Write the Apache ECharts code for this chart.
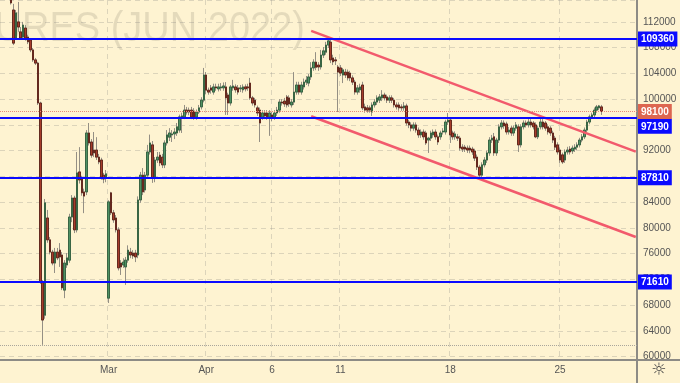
<!DOCTYPE html>
<html><head><meta charset="utf-8">
<script src="https://cdn.jsdelivr.net/npm/echarts@6/dist/echarts.min.js"></script>
<style>html,body{margin:0;padding:0;background:#fef3d1;}#c{width:680px;height:383px;}</style>
</head><body><div id="c"></div>
<script>
const BG = '#fef3d1';
const FONT = '"Liberation Sans", Arial, sans-serif';
const NCAT = 261;
const firstIdx = 4;
const tickIdx = [44, 84, 111, 139, 184, 229];
const tickTxt = ['Mar', 'Apr', '6', '11', '18', '25'];
const levelPrices = [109360, 97190, 87810, 71610];
const lastPrice = 98100;
const lowPrice = 61850;
const trendUpper = [[127, 110600], [260, 91850]];
const trendLower = [[127, 97350], [260, 78600]];
// [open, close, low, high]
const candles = [
[115800,114950,114700,116300],[113850,108700,108400,114800],[109500,113400,109200,113850],[112000,111200,110450,115100],
[110450,109500,109200,111200],[109650,111500,109350,112000],[111050,109500,109100,111500],[109650,108900,108550,110000],
[109200,107650,107300,109500],[107650,106100,105800,107950],[106100,105600,105300,106400],[105600,99400,99100,105800],
[99400,71600,71300,99600],[71600,65700,61850,71900],[66450,83900,65900,84500],[81550,78150,77700,82800],
[78150,76250,75900,78600],[76250,74550,74200,76600],[74550,76250,73000,76900],[76250,75350,75000,76900],
[76550,75500,73950,77650],[75800,70700,70350,76250],[70350,74550,69100,75000],[74250,75350,73800,76100],
[75000,81700,74600,82200],[81700,84650,80900,85100],[84650,79700,79200,85000],[79700,88550,79300,91800],
[88700,87450,86900,92550],[87750,85450,85000,88100],[85600,84950,82300,86100],[85600,94750,85100,95200],
[94750,93200,92800,96300],[93350,91300,90900,93800],[92100,91650,91000,94900],[92100,91000,90550,94100],
[91000,90250,89900,91500],[90550,87900,87500,90900],[88200,87600,86950,88550],[87900,88400,87100,89000],
[69100,84050,68350,84300],[85450,82350,82000,85600],[82350,81250,80800,82800],[81550,79700,79300,82000],
[79700,73800,73400,80100],[74550,73950,72700,75000],[74250,74700,73800,75300],[73950,75000,71150,75500],
[75000,76550,74600,77300],[76250,75800,75300,76900],[76100,75650,75200,76550],[76100,75500,74700,76600],
[75800,84350,75300,84900],[84350,88200,83900,88700],[88200,85600,85100,89300],[85900,88200,85500,88700],
[88200,91800,87700,92900],[91800,93200,91400,94500],[92900,87750,87000,93500],[87750,90550,87100,91000],
[90550,91000,90100,91800],[91300,90100,89600,91800],[91000,89800,89300,91500],[89800,93200,89300,93600],
[93200,94450,92800,95200],[94100,94750,93500,95500],[94450,94600,93350,95200],[94600,94900,93800,95500],
[94750,95700,94300,96300],[95200,97250,94800,97600],[97100,97400,94750,97900],[97250,98300,96900,99100],
[98300,98000,97600,98800],[98300,98000,97500,98700],[98300,97250,96900,98800],[98150,97250,96800,98600],
[97250,98000,96800,98400],[98000,98650,97700,99100],[98800,99850,98400,100300],[99850,103750,99500,104850],
[103750,101400,100800,104200],[101400,101100,100700,101800],[101750,101400,100850,102200],[101100,101900,100700,102400],
[101900,101750,101300,102400],[101600,101900,101200,102400],[101750,101900,101300,102500],[101750,102050,101300,102600],
[101900,100200,97550,102650],[100650,99400,97550,101000],[99400,101900,99000,102200],[101750,102050,101300,103000],
[101900,101450,101000,102300],[101750,101100,100700,102200],[101600,101750,101100,102200],[101450,101900,101000,102300],
[101900,101600,101200,102300],[101900,101750,101300,102400],[102500,100200,99900,103300],[100200,99400,99000,100500],
[99850,99100,98700,100200],[98650,97850,97400,99000],[98300,96300,93350,98700],[97250,97850,96800,98300],
[97850,97400,96900,98300],[97850,97250,96800,98300],[97250,97850,94300,98300],[97550,97100,96600,98000],
[97250,97850,96800,98300],[97850,98300,97400,98800],[98300,99550,97900,100000],[99550,99400,99000,100000],
[99700,99250,98800,100200],[100350,99100,98700,100650],[100200,99250,98800,100600],[99100,99550,98700,100000],
[99550,101100,99100,104200],[101100,102200,100700,102700],[102200,101100,100700,102700],[101100,102200,100700,102700],
[101900,102650,101500,103200],[102650,102950,102200,103600],[102500,103450,102000,103900],[103450,104850,103000,105750],
[104850,105750,104400,106200],[105750,104950,104500,107300],[105300,105000,104400,105750],[105000,106850,104600,107650],
[106850,107500,106400,108100],[107300,108400,106900,108900],[108400,109050,107950,109500],[108850,106100,105600,109350],
[106400,105800,105300,106900],[106100,105950,105300,106550],[105000,104200,98000,105300],[104850,104050,103600,105300],
[103750,104550,102500,104850],[104200,103750,103300,104700],[104200,103300,102900,104600],[104050,103300,102800,104400],
[103300,102650,102200,103700],[102650,101100,100700,103000],[101100,101750,100700,102200],[101450,101900,101000,102400],
[102200,98650,98300,102700],[98800,98300,97900,99300],[98650,98300,97900,99100],[98650,98300,97900,99000],
[98000,99100,97400,99500],[99100,99550,98700,100000],[99550,100200,99100,100600],[99850,100350,99400,100800],
[100200,100650,99700,101400],[100650,100200,99800,101000],[100350,99850,99400,100700],[99850,100200,99400,100600],
[100200,99850,99400,100600],[99850,99100,98700,100200],[99100,98800,98400,99500],[99100,98650,98200,99500],
[98800,98650,98200,99200],[98650,98950,98200,99550],[98950,96300,95900,99300],[96450,96000,95500,96800],
[96000,95500,95000,96400],[95500,96000,95100,96400],[96000,95200,94800,96400],[95200,94450,94000,95600],
[94450,94900,94000,95300],[94900,94150,93700,95300],[94750,93200,92900,95100],[93650,93950,91650,94150],
[93950,94750,93500,95100],[94450,94900,94000,95300],[94900,94150,93700,95300],[94150,93350,92900,94500],
[94150,94750,93700,95100],[94900,95050,94500,95500],[94900,96450,94500,96800],[96450,96750,96000,97850],
[96750,94450,93200,97100],[94750,94150,93700,95100],[94150,94600,93700,95000],[94150,93950,93500,94600],
[93950,92400,92000,94300],[92550,92250,91800,93000],[92550,92250,91800,92900],[92400,92100,91650,92800],
[92400,92100,91600,92800],[92250,91800,91350,92600],[91950,90850,90400,92300],[91000,89450,89000,91400],
[89450,88200,87900,89800],[88200,89800,87750,90200],[89800,90550,89400,91000],[90550,91650,90100,92000],
[91650,93650,91200,94100],[93650,93950,93200,94450],[94150,91650,91200,94750],[91650,93650,91200,94000],
[93650,95700,93200,96100],[95700,96300,95300,96750],[96300,95850,95400,96700],[96150,94900,94500,96500],
[94900,95200,94500,95700],[95500,94750,94300,95900],[94750,95500,94300,95900],[95500,96000,95100,96450],
[95700,92900,91800,96100],[92900,95700,92500,96100],[95700,96300,95300,96700],[96300,96000,95600,96700],
[96000,96450,95600,96900],[96450,96000,95600,96900],[96300,95700,95300,96600],[96000,94150,93950,96400],
[94150,95500,93800,95900],[95700,96450,95300,97100],[96450,95700,95300,96900],[96300,95500,95100,96600],
[95700,94900,94500,96100],[95500,94750,94300,95800],[94750,93650,93200,95100],[93950,92550,92100,94300],
[92900,91800,91400,93300],[92100,90550,90100,92500],[91350,90250,89950,91700],[90550,91800,90100,92200],
[91800,92100,91400,92600],[92250,91800,91400,92700],[91950,92400,91500,92800],[92250,92550,91800,93000],
[92550,92900,92100,93300],[92900,93650,92500,94000],[93650,94150,93300,94600],[94150,95200,93800,95600],
[95200,96450,94900,96800],[96450,97250,96100,97600],[97250,97550,96900,97900],[97550,98300,97200,98700],
[98300,98800,97900,99100],[98650,98950,98300,99100],[98800,98100,97550,99100]
];

const cats = Array.from({length: NCAT}, (_, i) => String(i));
const wickData = candles.map((c, j) => [j + firstIdx, c[0], c[1], c[2], c[3]]);
const bodyData = candles.map((c, j) => [j + firstIdx, c[0], c[1], Math.min(c[0], c[1]), Math.max(c[0], c[1])]);

function tag(color, shift) {
  return {
    show: true, position: 'end', distance: 1,
    formatter: p => '{t|' + p.value + '}',
    padding: shift ? [shift, 0, 0, 0] : 0,
    rich: { t: { color: '#fff', backgroundColor: color, fontWeight: 'bold', fontSize: 10,
      fontFamily: FONT, padding: [3, 3, 2, 3], lineHeight: 11 } }
  };
}
const BLUE = '#0a0aff';
const levelLines = levelPrices.map(v => ({
  yAxis: v, lineStyle: { color: BLUE, width: 2, type: 'solid' },
  label: tag(BLUE, v === 97190 ? 18 : 0)
}));
levelLines.push({ yAxis: lastPrice, lineStyle: { color: '#e58a78', width: 1, type: 'dotted' }, label: tag('#dd6650', 0) });
levelLines.push({ yAxis: lowPrice, lineStyle: { color: '#aaa69c', width: 1, type: 'dotted' }, label: { show: false } });

const chart = echarts.init(document.getElementById('c'), null, { renderer: 'canvas' });
chart.setOption({
  animation: false,
  backgroundColor: BG,
  textStyle: { fontFamily: FONT },
  grid: { left: 0, right: 43, top: 0, bottom: 0.5, containLabel: false },
  xAxis: [
    { type: 'category', data: cats, gridIndex: 0, position: 'bottom',
      axisLine: { show: false, onZero: false }, axisTick: { show: false }, axisLabel: { show: false },
      splitLine: { show: true, interval: (i) => tickIdx.includes(i),
        lineStyle: { color: 'rgba(120,120,120,0.25)', type: [5, 4], width: 1 } } },
    { type: 'category', data: cats, gridIndex: 0, position: 'bottom', offset: -22.5, z: 60,
      axisLine: { show: false, onZero: false }, axisTick: { show: false }, splitLine: { show: false },
      axisLabel: { show: true, interval: (i) => tickIdx.includes(i), color: '#555', fontSize: 10, margin: 5,
        formatter: (v) => { const k = tickIdx.indexOf(Number(v)); return k >= 0 ? tickTxt[k] : ''; } } }
  ],
  yAxis: {
    type: 'value', position: 'right', min: 56000, max: 115400, interval: 4000,
    axisLine: { show: true, lineStyle: { color: '#8d8b85', width: 2 } },
    axisTick: { show: false },
    axisLabel: { showMinLabel: false, showMaxLabel: false, color: '#555', fontSize: 10, margin: 6,
      formatter: (v) => String(v) },
    splitLine: { show: true, lineStyle: { color: 'rgba(120,120,120,0.25)', type: [5, 4], width: 1 } }
  },
  series: [
    { name: 'wick', type: 'candlestick', data: wickData, encode: { x: 0, y: [1, 2, 3, 4] },
      barWidth: 2, clip: true, z: 2, silent: true,
      itemStyle: { color: 'transparent', color0: 'transparent', borderColor: '#948f84', borderColor0: '#948f84',
        borderColorDoji: '#948f84', borderWidth: 1 } },
    { name: 'body', type: 'candlestick', data: bodyData, encode: { x: 0, y: [1, 2, 3, 4] },
      barWidth: 2, clip: true, z: 3, silent: true,
      itemStyle: { color: '#4f9163', color0: '#a63c2b', borderColor: '#2b5a39', borderColor0: '#561a10',
        borderColorDoji: '#2b5a39', borderWidth: 0.8 } },
    { name: 'upper', type: 'line', data: trendUpper, symbol: 'none', z: 4, silent: true,
      lineStyle: { color: '#f25a6c', width: 2.5 } },
    { name: 'lower', type: 'line', data: trendLower, symbol: 'none', z: 4, silent: true,
      lineStyle: { color: '#f25a6c', width: 2.5 } },
    { name: 'levels', type: 'line', data: [], z: 5, silent: true,
      markLine: { symbol: 'none', silent: true, animation: false, data: levelLines } }
  ],
  graphic: { elements: [
    { type: 'text', x: 305, y: 29, z: -1, silent: true, scaleY: 1.12, originX: 0, originY: 0,
      style: { text: 'FUTURES (JUN 2022)', font: '38px "Liberation Sans"', fill: 'rgba(0,0,0,0.1)',
        align: 'right', verticalAlign: 'middle', textAlign: 'right', textVerticalAlign: 'middle' } },
    { type: 'rect', z: 50, silent: true, shape: { x: 0, y: 360, width: 680, height: 23 }, style: { fill: BG } },
    { type: 'line', z: 51, silent: true, shape: { x1: 0, y1: 360, x2: 680, y2: 360 }, style: { stroke: '#8d8b85', lineWidth: 2 } },
    { type: 'line', z: 51, silent: true, shape: { x1: 637, y1: 360, x2: 637, y2: 383 }, style: { stroke: '#8d8b85', lineWidth: 2 } },
    { type: 'text', x: 659, y: 371, z: 52, silent: true,
      style: { text: '☼', font: '17px "DejaVu Sans"', fill: '#444', align: 'center', verticalAlign: 'middle',
        textAlign: 'center', textVerticalAlign: 'middle' } }
  ] }
});
</script></body></html>
